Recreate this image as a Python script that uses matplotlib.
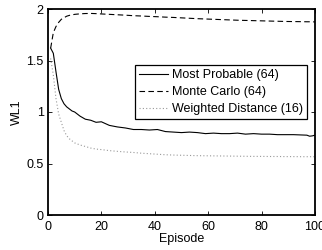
import matplotlib
matplotlib.use("Agg")
import matplotlib.pyplot as plt

plt.rcParams['font.family'] = ['Liberation Sans', 'DejaVu Sans']

episodes = [1, 2, 3, 4, 5, 6, 7, 8, 9, 10, 12, 14, 16, 18, 20, 23, 26, 29, 32, 35,
            38, 41, 44, 47, 50, 53, 56, 59, 62, 65, 68, 71, 74, 77, 80, 83, 86, 89,
            92, 95, 97, 98, 99, 100]

most_probable = [1.62, 1.57, 1.39, 1.22, 1.13, 1.08, 1.05, 1.03, 1.01, 1.00, 0.96, 0.93,
                 0.92, 0.90, 0.905, 0.87, 0.855, 0.845, 0.83, 0.83, 0.825, 0.83, 0.81,
                 0.805, 0.80, 0.805, 0.80, 0.79, 0.795, 0.79, 0.79, 0.795, 0.785, 0.79,
                 0.785, 0.785, 0.78, 0.78, 0.78, 0.777, 0.775, 0.765, 0.768, 0.775]

monte_carlo = [1.62, 1.77, 1.83, 1.87, 1.90, 1.915, 1.93, 1.938, 1.943, 1.948, 1.953, 1.956,
               1.957, 1.955, 1.952, 1.948, 1.944, 1.94, 1.935, 1.932, 1.928, 1.925, 1.921,
               1.918, 1.914, 1.91, 1.906, 1.903, 1.9, 1.897, 1.894, 1.891, 1.889, 1.887,
               1.885, 1.883, 1.881, 1.879, 1.878, 1.877, 1.876, 1.876, 1.875, 1.875]

weighted_distance = [1.52, 1.36, 1.13, 0.98, 0.90, 0.82, 0.77, 0.74, 0.72, 0.70, 0.68, 0.665,
                     0.65, 0.64, 0.635, 0.625, 0.618, 0.612, 0.607, 0.60, 0.595, 0.59, 0.585,
                     0.582, 0.58, 0.578, 0.576, 0.575, 0.574, 0.573, 0.572, 0.571, 0.57,
                     0.569, 0.569, 0.568, 0.568, 0.567, 0.567, 0.566, 0.566, 0.566, 0.566, 0.566]

labels = ["Most Probable (64)", "Monte Carlo (64)", "Weighted Distance (16)"]

fig = plt.figure(figsize=(3.22, 2.5), dpi=100)
ax = fig.add_axes([0.149, 0.14, 0.829, 0.824])

ax.plot(episodes, most_probable, color='black', lw=0.8, ls='-', label=labels[0])
ax.plot(episodes, monte_carlo, color='black', lw=0.8, ls=(0, (5, 3)), label=labels[1])
ax.plot(episodes, weighted_distance, color='#999999', lw=0.8, ls=(0, (1, 2)), label=labels[2])

ax.set_xlim(0, 100)
ax.set_ylim(0, 2)
ax.set_xticks([0, 20, 40, 60, 80, 100])
ax.set_yticks([0, 0.5, 1, 1.5, 2])
ax.set_yticklabels(['0', '0.5', '1', '1.5', '2'])
ax.tick_params(direction='in', top=True, right=True, length=3, width=0.6,
               labelsize=9)
ax.tick_params(axis='x', pad=4)
ax.tick_params(axis='y', pad=3)
for s in ax.spines.values():
    s.set_linewidth(1.3)

ax.set_xlabel('Episode', fontsize=9, labelpad=0.5)
ax.set_ylabel('WL1', fontsize=9, labelpad=2.5)

leg = ax.legend(loc='upper left', bbox_to_anchor=(0.326, 0.728), fontsize=9,
                frameon=True, fancybox=False, edgecolor='black', framealpha=1,
                borderpad=0.35, labelspacing=0.38, handlelength=2.3, handletextpad=0.3,
                borderaxespad=0)
leg.get_frame().set_linewidth(0.9)

fig.savefig('out.png', dpi=100)
